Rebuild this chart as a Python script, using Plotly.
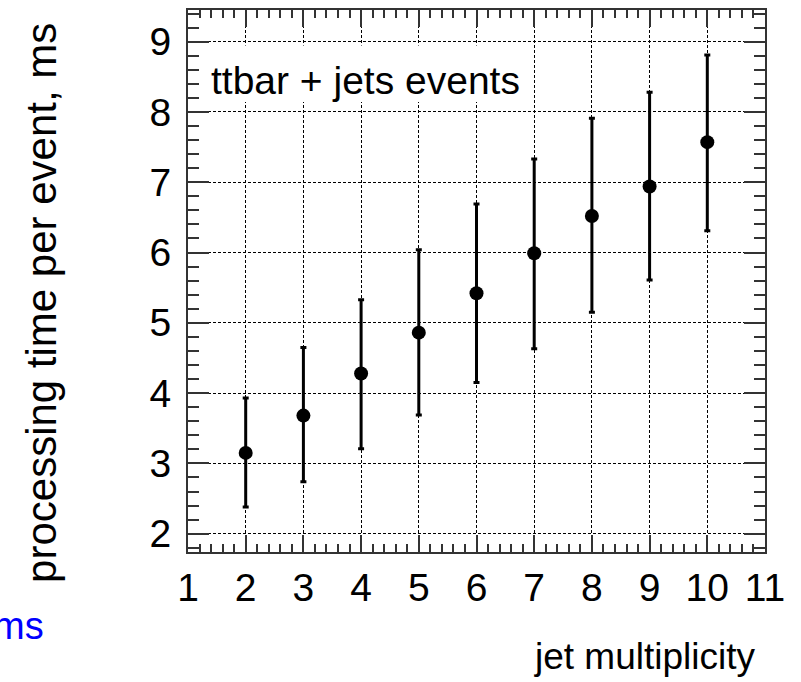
import plotly.graph_objects as go

# jet multiplicity vs. mean processing time per event (ms), with asymmetric spreads
jet_multiplicity = [2, 3, 4, 5, 6, 7, 8, 9, 10]
time_ms = [3.15, 3.68, 4.28, 4.86, 5.42, 5.99, 6.52, 6.94, 7.57]
err_up = [0.78, 0.97, 1.05, 1.18, 1.27, 1.34, 1.39, 1.34, 1.24]
err_down = [0.77, 0.94, 1.07, 1.17, 1.27, 1.36, 1.37, 1.33, 1.26]

label_text = "ttbar + jets events"
x_title = "jet multiplicity"
y_title = "processing time per event, ms"
corner_note = "ms"

FONT = "Liberation Sans, Arial, Helvetica, sans-serif"
FRAME = "#333333"

fig = go.Figure()

fig.add_trace(go.Scatter(
    x=jet_multiplicity,
    y=time_ms,
    mode="markers",
    marker=dict(color="black", size=14, symbol="circle"),
    error_y=dict(
        type="data",
        symmetric=False,
        array=err_up,
        arrayminus=err_down,
        color="black",
        thickness=3,
        width=3,
    ),
    showlegend=False,
))

# white box behind the label, hiding the grid there
fig.add_shape(
    type="rect", xref="x", yref="y",
    x0=1.04, x1=6.82, y0=8.14, y1=8.945,
    fillcolor="white", line=dict(width=0), layer="between",
)

fig.add_annotation(
    x=1.36, y=8.45, xref="x", yref="y",
    text=label_text, showarrow=False,
    xanchor="left", yanchor="middle",
    font=dict(family=FONT, size=39, color="black"),
)

fig.add_annotation(
    x=757, y=657, xref="paper", yref="paper",
    text=x_title, showarrow=False,
    xanchor="right", yanchor="middle",
    font=dict(family=FONT, size=37, color="black"),
)

fig.add_annotation(
    x=42, y=302, xref="paper", yref="paper",
    text=y_title, showarrow=False, textangle=-90,
    xanchor="center", yanchor="middle",
    font=dict(family=FONT, size=42, color="black"),
)

fig.add_annotation(
    x=46, y=626, xref="paper", yref="paper",
    text=corner_note, showarrow=False,
    xanchor="right", yanchor="middle",
    font=dict(family=FONT, size=38, color="#0000ff"),
)

W, H = 801, 682
ML, MR, MT, MB = 188, 36, 8, 130

# convert the pixel-placed annotations to paper coordinates
pw, ph = W - ML - MR, H - MT - MB
for ann in fig.layout.annotations:
    if ann.xref == "paper":
        ann.x = (ann.x - ML) / pw
        ann.y = 1 - (ann.y - MT) / ph

axis_common = dict(
    showline=True, linecolor=FRAME, linewidth=2, mirror="allticks",
    ticks="inside", tickcolor=FRAME, tickwidth=1.5,
    showgrid=True, gridcolor="black", gridwidth=1, griddash="3px,2px",
    zeroline=False, dtick=1, tick0=0,
    tickfont=dict(family=FONT, size=39, color="black"),
)

fig.update_xaxes(
    **axis_common, range=[1, 11], ticklen=17, ticklabelstandoff=0,
    minor=dict(dtick=0.2, ticks="inside", ticklen=8, tickcolor=FRAME,
               tickwidth=1.5, showgrid=False),
)
fig.update_yaxes(
    **axis_common, range=[1.74, 9.45], ticklen=21, ticklabelstandoff=7,
    minor=dict(dtick=0.2, ticks="inside", ticklen=11, tickcolor=FRAME,
               tickwidth=1.5, showgrid=False),
)

fig.update_layout(
    width=W, height=H,
    margin=dict(l=ML, r=MR, t=MT, b=MB, pad=0),
    paper_bgcolor="white", plot_bgcolor="white",
)

fig.write_html("out.html")
